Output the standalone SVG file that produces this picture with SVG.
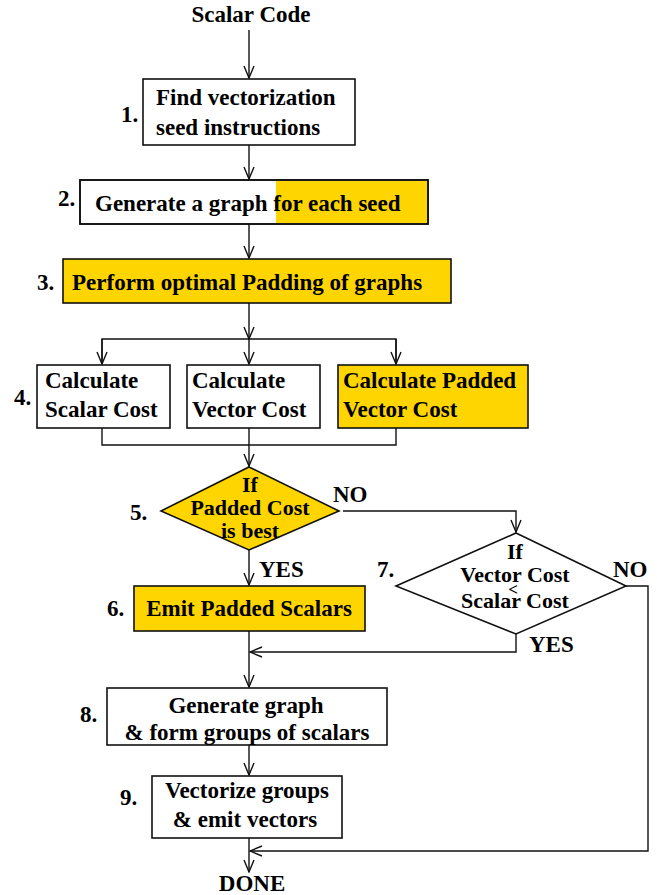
<svg xmlns="http://www.w3.org/2000/svg" width="657" height="895" viewBox="0 0 657 895">
<style>
text{font-family:"Liberation Serif","Times New Roman",serif;font-weight:bold;font-size:23px;fill:#000}
.box{stroke:#111;stroke-width:1.6;fill:#fff}
.y{fill:#FFD500}
.c{fill:none;stroke:#111;stroke-width:1.4}
.m{text-anchor:middle}
.d{font-size:22px}
.lt{font-size:17px}
</style>
<defs>
<marker id="ah" markerUnits="userSpaceOnUse" markerWidth="14" markerHeight="12" refX="13" refY="6" orient="auto">
<path d="M1,1 L13,6 L1,11" fill="none" stroke="#111" stroke-width="1.4"/>
</marker>
</defs>
<g id="connectors">
<line class="c" x1="249" y1="30" x2="249" y2="78" marker-end="url(#ah)"/>
<line class="c" x1="249" y1="145" x2="249" y2="179" marker-end="url(#ah)"/>
<line class="c" x1="249" y1="224" x2="249" y2="258" marker-end="url(#ah)"/>
<line class="c" x1="249" y1="303" x2="249" y2="339" marker-end="url(#ah)"/>
<polyline class="c" points="102,364 102,339 396,339 396,364"/>
<line class="c" x1="102" y1="339" x2="102" y2="364" marker-end="url(#ah)"/>
<line class="c" x1="249" y1="339" x2="249" y2="364" marker-end="url(#ah)"/>
<line class="c" x1="396" y1="339" x2="396" y2="364" marker-end="url(#ah)"/>
<polyline class="c" points="102,428 102,445 396,445 396,428"/>
<line class="c" x1="249" y1="428" x2="249" y2="466" marker-end="url(#ah)"/>
<line class="c" x1="249" y1="550" x2="249" y2="585" marker-end="url(#ah)"/>
<polyline class="c" points="343,511 516,511 516,532" marker-end="url(#ah)"/>
<polyline class="c" points="516,634 516,652 250,652" marker-end="url(#ah)"/>
<polyline class="c" points="626,586 648,586 648,851 250,851" marker-end="url(#ah)"/>
<line class="c" x1="249" y1="631" x2="249" y2="687" marker-end="url(#ah)"/>
<line class="c" x1="249" y1="745" x2="249" y2="775" marker-end="url(#ah)"/>
<line class="c" x1="249" y1="838" x2="249" y2="872" marker-end="url(#ah)"/>
</g>
<g id="start"><text class="m" x="251" y="22">Scalar Code</text></g>
<g id="n1">
<rect class="box" x="143" y="79" width="212" height="66"/>
<text x="156" y="105">Find vectorization</text>
<text x="156" y="135">seed instructions</text>
<text x="121" y="122">1.</text>
</g>
<g id="n2">
<rect class="box" x="80" y="180" width="348" height="44"/>
<rect class="y" x="276" y="181" width="151" height="42"/>
<rect x="80" y="180" width="348" height="44" fill="none" stroke="#111" stroke-width="1.6"/>
<text x="95" y="211">Generate a graph for each seed</text>
<text x="58" y="206">2.</text>
</g>
<g id="n3">
<rect class="box y" x="63" y="259" width="388" height="44"/>
<text x="72" y="290">Perform optimal Padding of graphs</text>
<text x="37" y="290">3.</text>
</g>
<g id="n4a">
<rect class="box" x="37" y="365" width="133" height="63"/>
<text x="45" y="388">Calculate</text>
<text x="45" y="417">Scalar Cost</text>
<text x="14" y="405">4.</text>
</g>
<g id="n4b">
<rect class="box" x="187" y="365" width="133" height="63"/>
<text x="192" y="388">Calculate</text>
<text x="192" y="417">Vector Cost</text>
</g>
<g id="n4c">
<rect class="box y" x="338" y="365" width="190" height="63"/>
<text x="343" y="388">Calculate Padded</text>
<text x="343" y="417">Vector Cost</text>
</g>
<g id="n5">
<polygon class="box y" points="249,467 339,511 249,550 161,511"/>
<text class="m d" x="250" y="492">If</text>
<text class="m d" x="250" y="515">Padded Cost</text>
<text class="m d" x="250" y="538">is best</text>
<text x="130" y="520">5.</text>
<text x="333" y="502">NO</text>
<text x="259" y="577">YES</text>
</g>
<g id="n6">
<rect class="box y" x="134" y="586" width="231" height="45"/>
<text class="m" x="249" y="616">Emit Padded Scalars</text>
<text x="107" y="616">6.</text>
</g>
<g id="n7">
<polygon class="box" points="516,533 626,586 516,634 396,586"/>
<text class="m d" x="515" y="559">If</text>
<text class="m d" x="515" y="582">Vector Cost</text>
<text class="m lt" x="513" y="595">&lt;</text>
<text class="m d" x="515" y="608">Scalar Cost</text>
<text x="377" y="577">7.</text>
<text x="613" y="577">NO</text>
<text x="529" y="652">YES</text>
</g>
<g id="n8">
<rect class="box" x="107" y="688" width="280" height="57"/>
<text class="m" x="246" y="713">Generate graph</text>
<text class="m" x="247" y="740">&amp; form groups of scalars</text>
<text x="80" y="722">8.</text>
</g>
<g id="n9">
<rect class="box" x="152" y="776" width="190" height="62"/>
<text class="m" x="247" y="798">Vectorize groups</text>
<text class="m" x="245" y="827">&amp; emit vectors</text>
<text x="120" y="805">9.</text>
</g>
<g id="end"><text class="m" x="252" y="891">DONE</text></g>
</svg>
